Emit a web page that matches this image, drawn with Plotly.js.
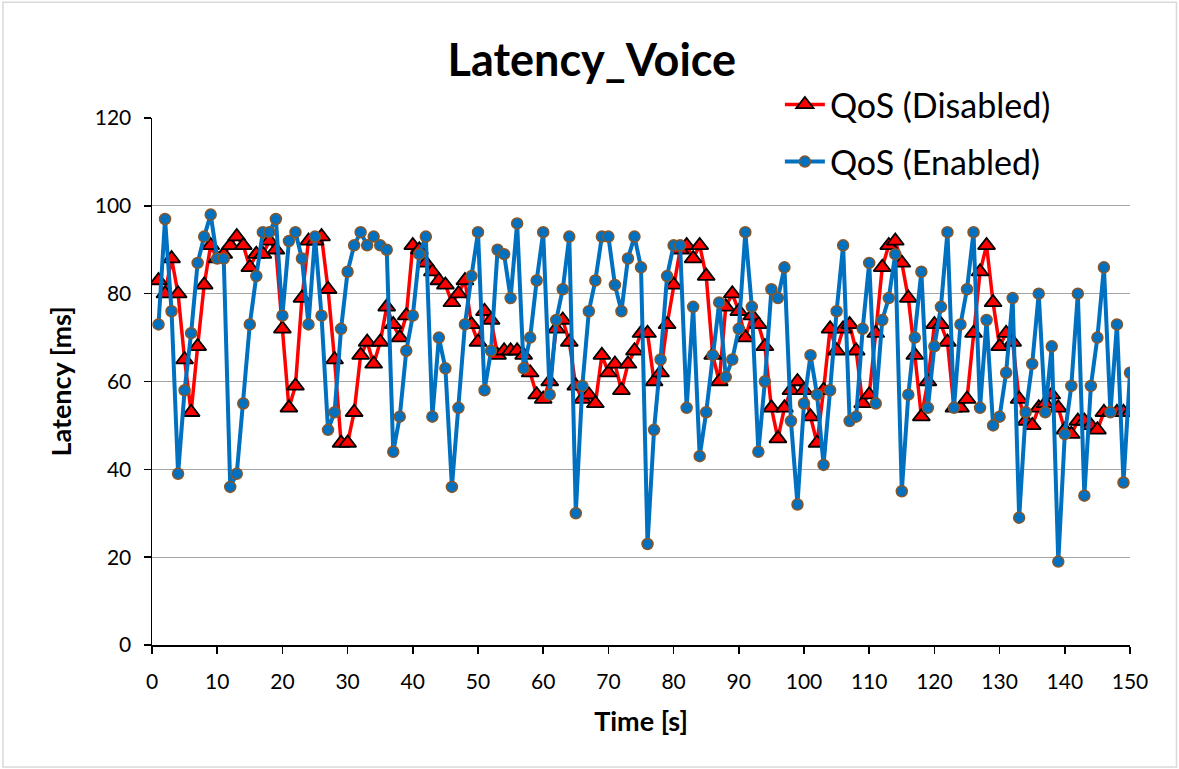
<!DOCTYPE html>
<html>
<head>
<meta charset="utf-8">
<script src="https://cdn.plot.ly/plotly-3.0.1.min.js"></script>
<style>html,body{margin:0;padding:0;background:#fff;}#chart{width:1179px;height:769px;}</style>
</head>
<body>
<div id="chart"></div>
<script>
const timeSec = Array.from({length: 150}, (_, i) => i + 1);

const qosDisabled = [
  83,80,88,80,65,53,68,82,91,88,
  89,91,93,91,86,89,89,92,90,72,
  54,59,79,92,92,93,81,65,46,46,
  53,66,69,64,69,77,73,70,75,91,
  90,87,85,83,82,78,80,83,73,69,
  76,74,66,67,67,67,66,62,57,56,
  60,72,74,69,59,56,57,55,66,62,
  64,58,64,67,71,71,60,62,73,82,
  90,91,88,91,84,66,60,77,80,76,
  70,75,73,68,54,47,54,58,60,58,
  52,46,58,72,67,72,73,67,55,57,
  71,86,91,92,87,79,66,52,60,73,
  73,69,54,54,56,71,85,91,78,68,
  71,69,56,51,50,54,55,57,54,49,
  48,51,51,50,49,53,53,53,53,53
];

const qosEnabled = [
  73,97,76,39,58,71,87,93,98,88,
  88,36,39,55,73,84,94,94,97,75,
  92,94,88,73,93,75,49,53,72,85,
  91,94,91,93,91,90,44,52,67,75,
  89,93,52,70,63,36,54,73,84,94,
  58,67,90,89,79,96,63,70,83,94,
  57,74,81,93,30,59,76,83,93,93,
  82,76,88,93,86,23,49,65,84,91,
  91,54,77,43,53,66,78,61,65,72,
  94,77,44,60,81,79,86,51,32,55,
  66,57,41,58,76,91,51,52,72,87,
  55,74,79,89,35,57,70,85,54,68,
  77,94,54,73,81,94,54,74,50,52,
  62,79,29,53,64,80,53,68,19,48,
  59,80,34,59,70,86,53,73,37,62
];

const seriesNames = ['QoS (Disabled)', 'QoS (Enabled)'];
const chartTitle = 'Latency_Voice';
const xTitle = 'Time [s]';
const yTitle = 'Latency [ms]';

const FONT = 'Lato, "Open Sans", "Noto Sans", sans-serif';

const traces = [
  {
    x: timeSec, y: qosDisabled, name: seriesNames[0], type: 'scatter', mode: 'lines+markers',
    line: {color: '#FF0000', width: 3.5},
    marker: {symbol: 'triangle-up', size: 15, color: '#FF0000', line: {color: '#000000', width: 1.8}},
    legend: 'legend'
  },
  {
    x: timeSec, y: qosEnabled, name: seriesNames[1], type: 'scatter', mode: 'lines+markers',
    line: {color: '#0070C0', width: 4},
    marker: {symbol: 'circle', size: 11, color: '#0070C0', line: {color: '#8A5626', width: 1.5}},
    legend: 'legend2'
  }
];

const layout = {
  width: 1179, height: 769,
  margin: {l: 152, r: 49, t: 118, b: 124},
  paper_bgcolor: '#ffffff', plot_bgcolor: '#ffffff',
  font: {family: FONT, color: '#000000', size: 21},
  title: {text: '<b>' + chartTitle + '</b>', x: 0.502, xanchor: 'center', y: 0.922, yanchor: 'middle',
          font: {family: FONT, size: 45, color: '#000'}},
  xaxis: {
    range: [0, 150], tick0: 0, dtick: 10, showgrid: false, zeroline: false,
    showline: true, linecolor: '#000', linewidth: 1.5,
    ticks: 'outside', ticklen: 7, tickcolor: '#000', tickwidth: 1.5, ticklabelstandoff: 10,
    tickfont: {family: FONT, size: 21},
    title: {text: '<b>' + xTitle + '</b>', font: {family: FONT, size: 27}, standoff: 20}
  },
  yaxis: {
    range: [0, 120], tick0: 0, dtick: 20, showgrid: true, gridcolor: '#a6a6a6', gridwidth: 1.3,
    zeroline: false, showline: true, linecolor: '#000', linewidth: 1.5,
    ticks: 'outside', ticklen: 7, tickcolor: '#000', tickwidth: 1.5, ticklabelstandoff: 8,
    tickfont: {family: FONT, size: 21},
    title: {text: '<b>' + yTitle + '</b>', font: {family: FONT, size: 27}, standoff: 15}
  },
  legend: {x: 0.642, y: 1.025, xanchor: 'left', yanchor: 'middle', bgcolor: 'rgba(0,0,0,0)',
           font: {family: FONT, size: 34}, itemwidth: 40},
  legend2: {x: 0.642, y: 0.9165, xanchor: 'left', yanchor: 'middle', bgcolor: 'rgba(0,0,0,0)',
           font: {family: FONT, size: 34}, itemwidth: 40},
  shapes: [{
    type: 'rect', xref: 'paper', yref: 'paper',
    x0: -0.1524, x1: 1.0475, y0: -0.2315, y1: 1.2195,
    line: {color: '#d9d9d9', width: 1.5}, fillcolor: 'rgba(0,0,0,0)', layer: 'below'
  }],
  showlegend: true
};

Plotly.newPlot('chart', traces, layout, {displayModeBar: false, staticPlot: true});
</script>
</body>
</html>
